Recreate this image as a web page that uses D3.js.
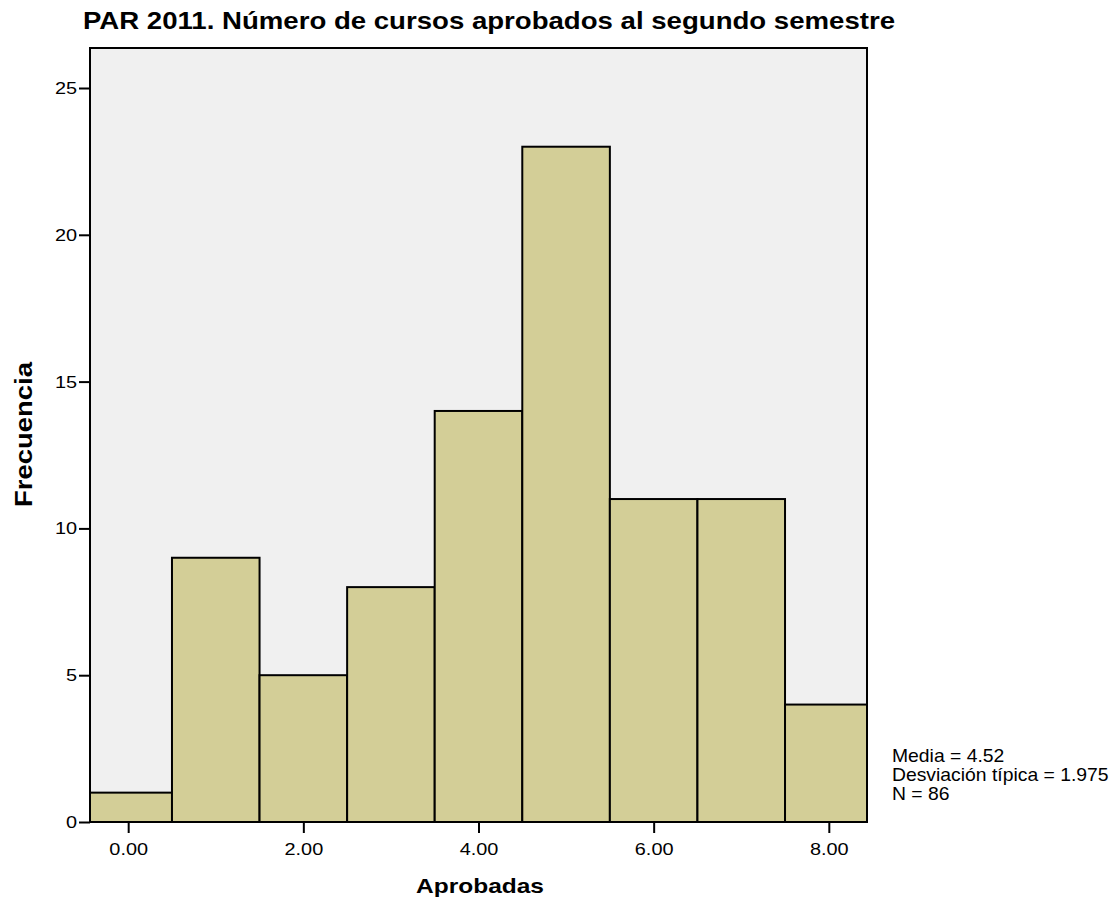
<!DOCTYPE html>
<html>
<head>
<meta charset="utf-8">
<script src="https://cdn.jsdelivr.net/npm/d3@7"></script>
<style>
  body { margin: 0; background: #fff; }
  svg text { font-family: "Liberation Sans", Arial, sans-serif; }
</style>
</head>
<body>
<svg id="chart" width="1119" height="901"></svg>
<script>
// histogram data: bin centers and counts
const binCenters = [0, 1, 2, 3, 4, 5, 6, 7, 8];
const counts = [1, 9, 5, 8, 14, 23, 11, 11, 4];
const xTicks = [0, 2, 4, 6, 8];
const yTicks = [0, 5, 10, 15, 20, 25];
const statLines = ['Media = 4.52', 'Desviación típica = 1.975', 'N = 86'];

const svg = d3.select('#chart');

const plotLeft = 90, plotRight = 867, plotTop = 48, plotBottom = 822;
// visible x range is a bit narrower than the outer bin edges
const xMin = -0.436, xMax = 8.436;

const xScale = d3.scaleLinear()
    .domain([xMin, xMax])
    .range([plotLeft, plotRight]);

const yScale = d3.scaleLinear()
    .domain([0, 25])
    .range([plotBottom, 88]);

//stretch text a bit wider, like the original rendering
function stretch(sel, k) {
    sel.attr('transform', function() {
        const x = +this.getAttribute('x') || 0;
        return `translate(${x},0) scale(${k},1) translate(${-x},0)`;
    });
}

// plot background
svg.append('rect')
    .attr('x', plotLeft)
    .attr('y', plotTop)
    .attr('width', plotRight - plotLeft)
    .attr('height', plotBottom - plotTop)
    .attr('fill', '#f0f0f0');

// bars (outer bins clipped to the frame)
svg.selectAll('.bar')
    .data(binCenters)
    .enter()
    .append('rect')
        .attr('class', 'bar')
        .attr('x', d => xScale(Math.max(d - 0.5, xMin)))
        .attr('width', d => xScale(Math.min(d + 0.5, xMax)) - xScale(Math.max(d - 0.5, xMin)))
        .attr('y', (d, i) => yScale(counts[i]))
        .attr('height', (d, i) => plotBottom - yScale(counts[i]))
        .attr('fill', '#d3ce97')
        .attr('stroke', '#000')
        .attr('stroke-width', 2);

// frame
svg.append('rect')
    .attr('x', plotLeft)
    .attr('y', plotTop)
    .attr('width', plotRight - plotLeft)
    .attr('height', plotBottom - plotTop)
    .attr('fill', 'none')
    .attr('stroke', '#000')
    .attr('stroke-width', 2);

// axes
const yAxis = svg.append('g')
    .attr('transform', `translate(${plotLeft}, 0)`)
    .call(d3.axisLeft(yScale).tickValues(yTicks).tickSize(11).tickSizeOuter(0).tickPadding(2));

const xAxis = svg.append('g')
    .attr('transform', `translate(0, ${plotBottom})`)
    .call(d3.axisBottom(xScale).tickValues(xTicks).tickFormat(d3.format('.2f')).tickSize(11).tickSizeOuter(0).tickPadding(10));

[xAxis, yAxis].forEach(g => {
    g.select('.domain').remove();
    g.selectAll('line').attr('stroke', '#000').attr('stroke-width', 2);
    g.selectAll('text').attr('font-size', '17px').attr('fill', '#000')
        .attr('font-family', '"Liberation Sans", Arial, sans-serif')
        .call(stretch, 1.17);
});

// title
svg.append('text')
    .attr('x', 489)
    .attr('y', 29)
    .attr('text-anchor', 'middle')
    .attr('font-size', '24px')
    .attr('font-weight', 'bold')
    .attr('textLength', 812)
    .attr('lengthAdjust', 'spacingAndGlyphs')
    .text('PAR 2011. Número de cursos aprobados al segundo semestre');

// x axis title
svg.append('text')
    .attr('x', 480)
    .attr('y', 893)
    .attr('text-anchor', 'middle')
    .attr('font-size', '21px')
    .attr('font-weight', 'bold')
    .attr('textLength', 128)
    .attr('lengthAdjust', 'spacingAndGlyphs')
    .text('Aprobadas');

// y axis title
svg.append('text')
    .attr('x', -434.5)
    .attr('y', 32)
    .attr('text-anchor', 'middle')
    .attr('transform', 'rotate(-90)')
    .attr('font-size', '23px')
    .attr('font-weight', 'bold')
    .attr('textLength', 145)
    .attr('lengthAdjust', 'spacingAndGlyphs')
    .text('Frecuencia');

// stats
svg.selectAll('.stat')
    .data(statLines)
    .enter()
    .append('text')
        .attr('class', 'stat')
        .attr('x', 892)
        .attr('y', (d, i) => 762 + i * 19)
        .attr('font-size', '18px')
        .text(d => d)
        .call(stretch, 1.075);
</script>
</body>
</html>
